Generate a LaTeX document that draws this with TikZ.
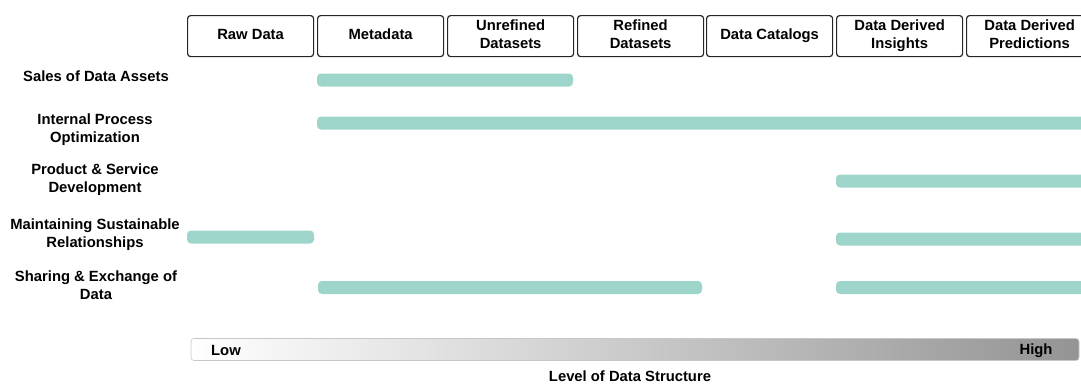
\documentclass[tikz,border=0pt]{standalone}
\usepackage{fontspec}
\setmainfont{Liberation Sans}
% two stacked lines whose struts keep the pair centred in a stage box
\newcommand{\twolines}[2]{\begin{tabular}{@{}c@{}}#1\\#2\end{tabular}}
\begin{document}
\begin{tikzpicture}[x=1pt,y=-1pt,
  every node/.style={font=\bfseries\fontsize{14.8}{18}\selectfont, align=center, text=black},
  stage/.style={draw=black!85, line width=1.2pt, rounded corners=3pt, minimum width=126pt, minimum height=41pt, inner sep=0pt, anchor=north west},
  usecase/.style={anchor=center},
  bar/.style={fill=barteal, rounded corners=4pt}]
\definecolor{barteal}{HTML}{9DD5CB}
\useasboundingbox (0,0) rectangle (1081,383);
\clip (0,0) rectangle (1081,383);

% data stages along the top
\node[stage] (raw)  at (187,15) {Raw Data\vphantom{g}};
\node[stage] (meta) at (317,15) {Metadata\vphantom{g}};
\node[stage] (unref) at (447,15) {\twolines{Unrefined}{Datasets}};
\node[stage] (ref)  at (577,15) {\twolines{Refined}{Datasets}};
\node[stage] (cat)  at (706,15) {Data Catalogs};
\node[stage] (ins)  at (836,15) {\twolines{Data Derived}{Insights}};
\node[stage] (pred) at (966,15) {\twolines{Data Derived}{Predictions}};

% use cases on the left
\node[usecase] (sales) at (96,76) {Sales of Data Assets};
\node[usecase] (ipo)   at (95,130) {Internal Process\\Optimization};
\node[usecase] (psd)   at (95,180) {Product \& Service\\Development};
\node[usecase] (msr)   at (95,235) {Maintaining Sustainable\\Relationships};
\node[usecase] (sed)   at (96,285) {Sharing \& Exchange of\\Data};

% coverage bars
\fill[bar] (317,73.5) rectangle (573,86.5);
\fill[bar] (317,116.5) rectangle (1095,129.5);
\fill[bar] (836,174.5) rectangle (1095,187.5);
\fill[bar] (187,230.5) rectangle (314,243.5);
\fill[bar] (836,232.5) rectangle (1095,245.5);
\fill[bar] (318,281) rectangle (702,294);
\fill[bar] (836,281) rectangle (1095,294);

% level of data structure scale
\shade[left color=white, right color=black!42, rounded corners=3pt, draw=black!22, line width=0.6pt]
  (191,338.5) rectangle (1079,360.5);
\node (low)  at (226,350.5) {Low};
\node (high) at (1036,350.5) {High};
\node (axis) at (630,376) {Level of Data Structure};
\end{tikzpicture}
\end{document}
